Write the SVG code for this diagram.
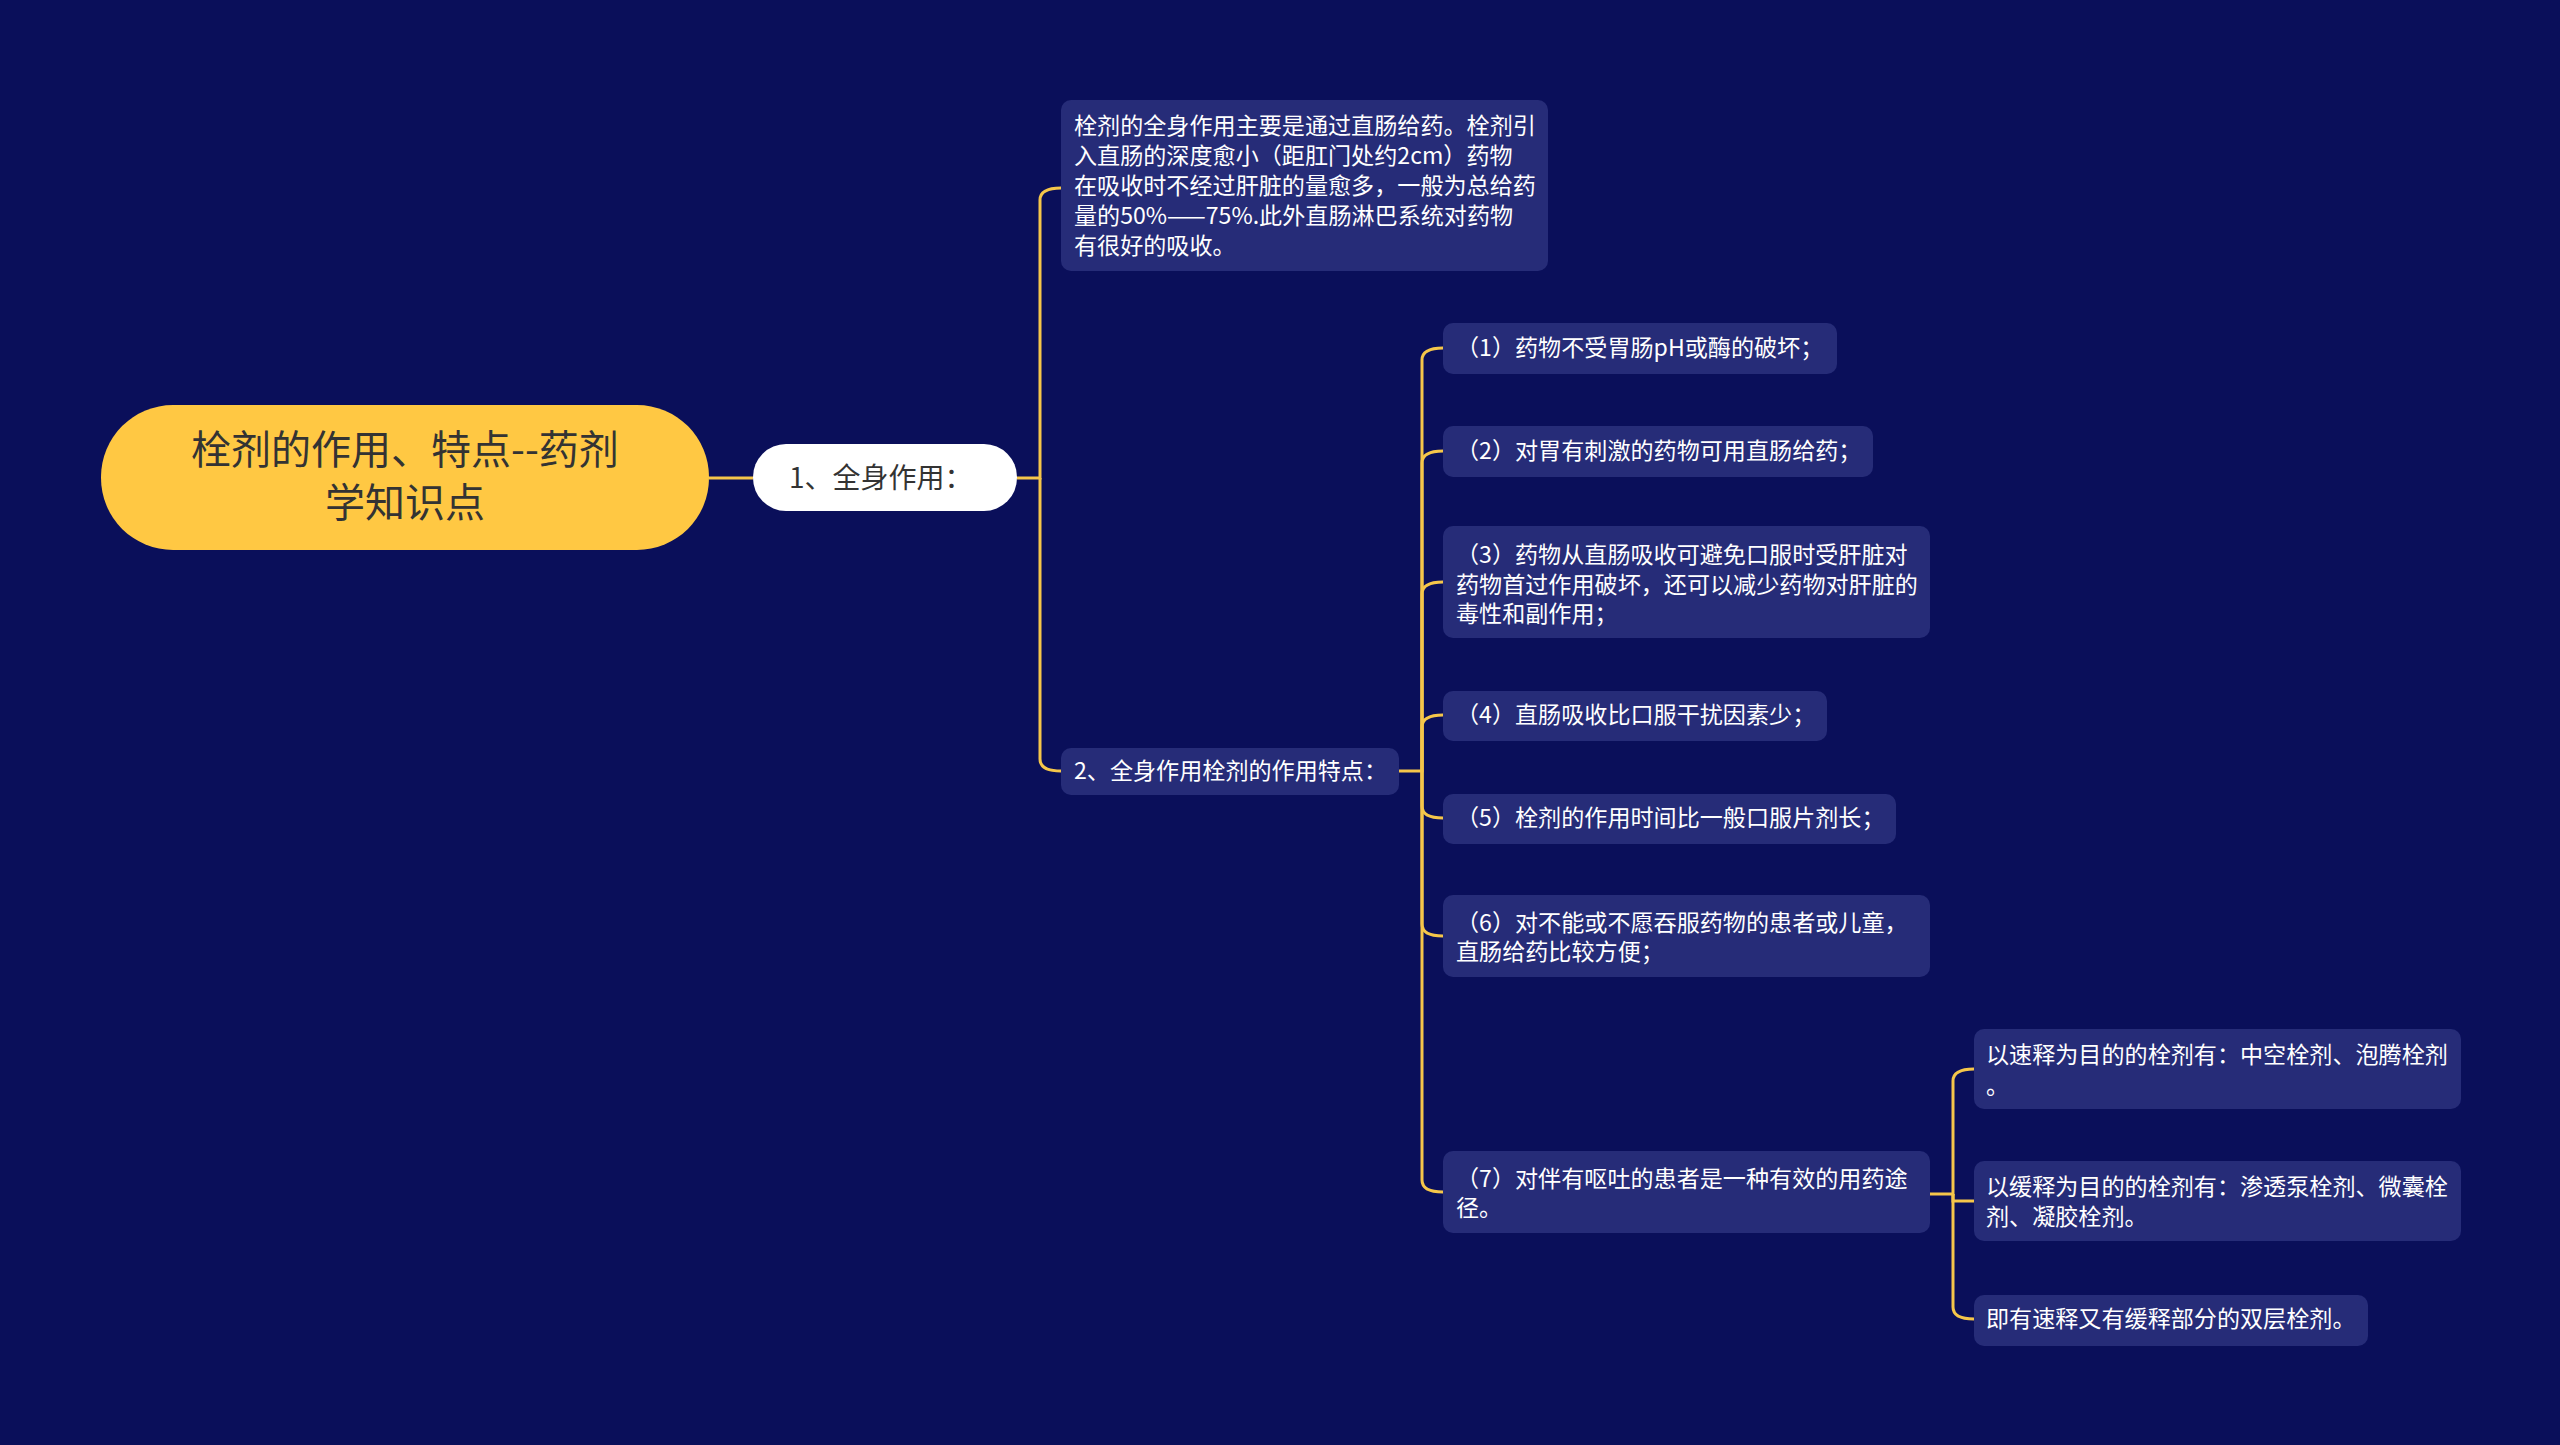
<svg xmlns="http://www.w3.org/2000/svg" width="2560" height="1445" viewBox="0 0 2560 1445">
<style>
.bg{fill:#0a0f5a}
.n{fill:#262c78}
.t{font-family:"Noto Sans CJK SC","Noto Sans",sans-serif;font-size:23.1px;fill:#ffffff}
.c{fill:none;stroke:#f5c64a;stroke-width:3}
</style>
<rect class="bg" width="2560" height="1445"/>
<g id="connectors">
<path class="c" d="M709,478 H753"/>
<path class="c" d="M1017,478 H1040 V200 Q1040,188 1061,188"/>
<path class="c" d="M1040,478 V759 Q1040,771 1061,771"/>
<path class="c" d="M1399,771 H1422 V360 Q1422,348 1443,348"/>
<path class="c" d="M1422,771 V463 Q1422,451 1443,451"/>
<path class="c" d="M1422,771 V594 Q1422,582 1443,582"/>
<path class="c" d="M1422,771 V727 Q1422,715 1443,715"/>
<path class="c" d="M1422,771 V806 Q1422,818 1443,818"/>
<path class="c" d="M1422,771 V924 Q1422,936 1443,936"/>
<path class="c" d="M1422,771 V1180 Q1422,1192 1443,1192"/>
<path class="c" d="M1930,1194 H1953 V1081 Q1953,1069 1974,1069"/>
<path class="c" d="M1953,1194 V1201 Q1953,1201 1974,1201"/>
<path class="c" d="M1953,1194 V1307 Q1953,1319 1974,1319"/>
</g>
<g id="root">
<rect x="101" y="405" width="608" height="145" rx="72" fill="#ffc843"/>
<text x="405" y="464" text-anchor="middle" font-family="Noto Sans CJK SC,sans-serif" font-size="40" fill="#333333">栓剂的作用、特点--药剂</text>
<text x="405" y="517" text-anchor="middle" font-family="Noto Sans CJK SC,sans-serif" font-size="40" fill="#333333">学知识点</text>
</g>
<g id="n1">
<rect x="753" y="444" width="264" height="67" rx="33" fill="#ffffff"/>
<text x="789" y="488" font-family="Noto Sans CJK SC,sans-serif" font-size="28" fill="#333333">1、全身作用：</text>
</g>
<g id="nA">
<rect class="n" x="1061" y="100" width="487" height="171" rx="10"/>
<text class="t" x="1074" y="134">栓剂的全身作用主要是通过直肠给药。栓剂引</text>
<text class="t" x="1074" y="164">入直肠的深度愈小（距肛门处约2cm）药物</text>
<text class="t" x="1074" y="194">在吸收时不经过肝脏的量愈多，一般为总给药</text>
<text class="t" x="1074" y="224">量的50%——75%.此外直肠淋巴系统对药物</text>
<text class="t" x="1074" y="254">有很好的吸收。</text>
</g>
<g id="nB">
<rect class="n" x="1061" y="748" width="338" height="47" rx="10"/>
<text class="t" x="1074" y="779">2、全身作用栓剂的作用特点：</text>
</g>
<g id="i1"><rect class="n" x="1443" y="323" width="394" height="51" rx="10"/><text class="t" x="1456" y="356">（1）药物不受胃肠pH或酶的破坏；</text></g>
<g id="i2"><rect class="n" x="1443" y="426" width="430" height="51" rx="10"/><text class="t" x="1456" y="459">（2）对胃有刺激的药物可用直肠给药；</text></g>
<g id="i3"><rect class="n" x="1443" y="526" width="487" height="112" rx="10"/>
<text class="t" x="1456" y="563">（3）药物从直肠吸收可避免口服时受肝脏对</text>
<text class="t" x="1456" y="593">药物首过作用破坏，还可以减少药物对肝脏的</text>
<text class="t" x="1456" y="622">毒性和副作用；</text></g>
<g id="i4"><rect class="n" x="1443" y="691" width="384" height="50" rx="10"/><text class="t" x="1456" y="723">（4）直肠吸收比口服干扰因素少；</text></g>
<g id="i5"><rect class="n" x="1443" y="794" width="453" height="50" rx="10"/><text class="t" x="1456" y="826">（5）栓剂的作用时间比一般口服片剂长；</text></g>
<g id="i6"><rect class="n" x="1443" y="895" width="487" height="82" rx="10"/>
<text class="t" x="1456" y="931">（6）对不能或不愿吞服药物的患者或儿童，</text>
<text class="t" x="1456" y="960">直肠给药比较方便；</text></g>
<g id="i7"><rect class="n" x="1443" y="1151" width="487" height="82" rx="10"/>
<text class="t" x="1456" y="1187">（7）对伴有呕吐的患者是一种有效的用药途</text>
<text class="t" x="1456" y="1216">径。</text></g>
<g id="c1"><rect class="n" x="1974" y="1029" width="487" height="80" rx="10"/>
<text class="t" x="1986" y="1063">以速释为目的的栓剂有：中空栓剂、泡腾栓剂</text>
<text class="t" x="1986" y="1094">。</text></g>
<g id="c2"><rect class="n" x="1974" y="1161" width="487" height="80" rx="10"/>
<text class="t" x="1986" y="1195">以缓释为目的的栓剂有：渗透泵栓剂、微囊栓</text>
<text class="t" x="1986" y="1225">剂、凝胶栓剂。</text></g>
<g id="c3"><rect class="n" x="1974" y="1295" width="394" height="51" rx="10"/><text class="t" x="1986" y="1327">即有速释又有缓释部分的双层栓剂。</text></g>
</svg>
